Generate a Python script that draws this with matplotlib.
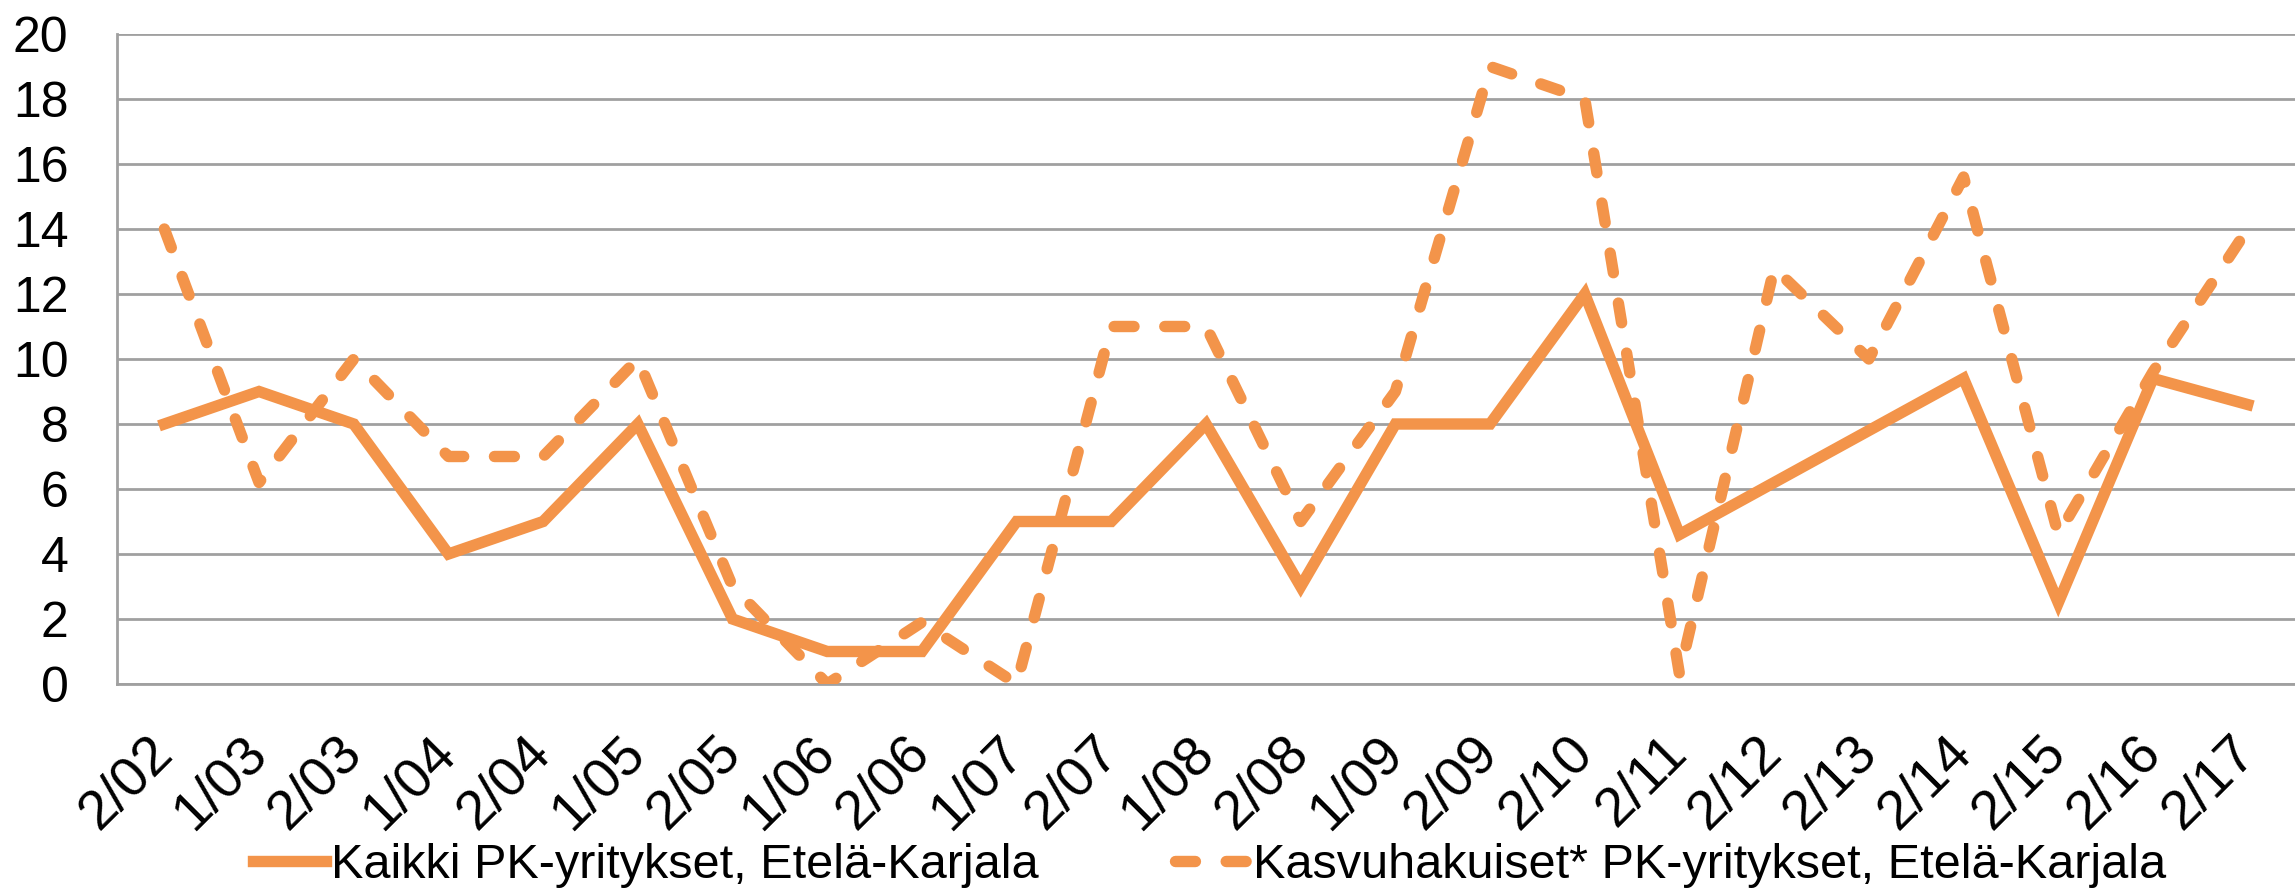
import matplotlib
matplotlib.use("Agg")
import matplotlib.pyplot as plt

categories = ["2/02", "1/03", "2/03", "1/04", "2/04", "1/05", "2/05", "1/06", "2/06",
              "1/07", "2/07", "1/08", "2/08", "1/09", "2/09", "2/10", "2/11", "2/12",
              "2/13", "2/14", "2/15", "2/16", "2/17"]
kaikki = [8, 9, 8, 4, 5, 8, 2, 1, 1, 5, 5, 8, 3, 8, 8, 12, 4.6, 6.2, 7.8, 9.4, 2.5, 9.4, 8.6]
kasvu = [14, 6.2, 10, 7, 7, 10, 3, 0, 1.9, 0, 11, 11, 5, 9, 19, 18, 0.3, 12.8, 10, 15.6, 4.6, 9.6, 14]
label_kaikki = "Kaikki PK-yritykset, Etelä-Karjala"
label_kasvu = "Kasvuhakuiset* PK-yritykset, Etelä-Karjala"
yticks = list(range(0, 21, 2))

plt.rcParams['font.family'] = ['Liberation Sans', 'DejaVu Sans']

W, H, DPI = 2295, 889, 100
fig = plt.figure(figsize=(W / DPI, H / DPI), dpi=DPI)
ax = fig.add_axes([117 / W, 1 - 684 / H, (W - 117) / W, (684 - 34) / H])

color = '#F3944A'
x = list(range(len(categories)))
ax.plot(x, kasvu, color=color, lw=8.2, linestyle=(0, (1.75, 2.7)),
        dash_capstyle='round', solid_capstyle='round', label=label_kasvu, zorder=3)
ax.plot(x, kaikki, color=color, lw=8.2, solid_joinstyle='miter',
        label=label_kaikki, zorder=4)

ax.set_xlim(-0.5, len(categories) - 0.5)
ax.set_ylim(0, 20)
ax.set_yticks(yticks)
ax.set_yticklabels([str(v) for v in yticks], fontsize=36)
ax.set_xticks(x)
ax.set_xticklabels(categories, fontsize=40, rotation=45, ha='right', va='center',
                   rotation_mode='anchor')
ax.tick_params(axis='both', length=0)
ax.tick_params(axis='y', pad=35)
ax.tick_params(axis='x', pad=44)

ax.grid(axis='y', color='#a0a0a0', lw=2)
ax.set_axisbelow(True)
for s in ['top', 'right']:
    ax.spines[s].set_visible(False)
for s in ['left', 'bottom']:
    ax.spines[s].set_color('#a0a0a0')
    ax.spines[s].set_linewidth(2)

h, l = ax.get_legend_handles_labels()
leg = fig.legend([h[1], h[0]], [l[1], l[0]], loc='center', bbox_to_anchor=(0.527, 0.026),
                 ncol=2, frameon=False, fontsize=35, handlelength=1.5,
                 handletextpad=0.1, columnspacing=2.8, borderpad=0, borderaxespad=0)

fig.savefig("out.png", dpi=DPI)
